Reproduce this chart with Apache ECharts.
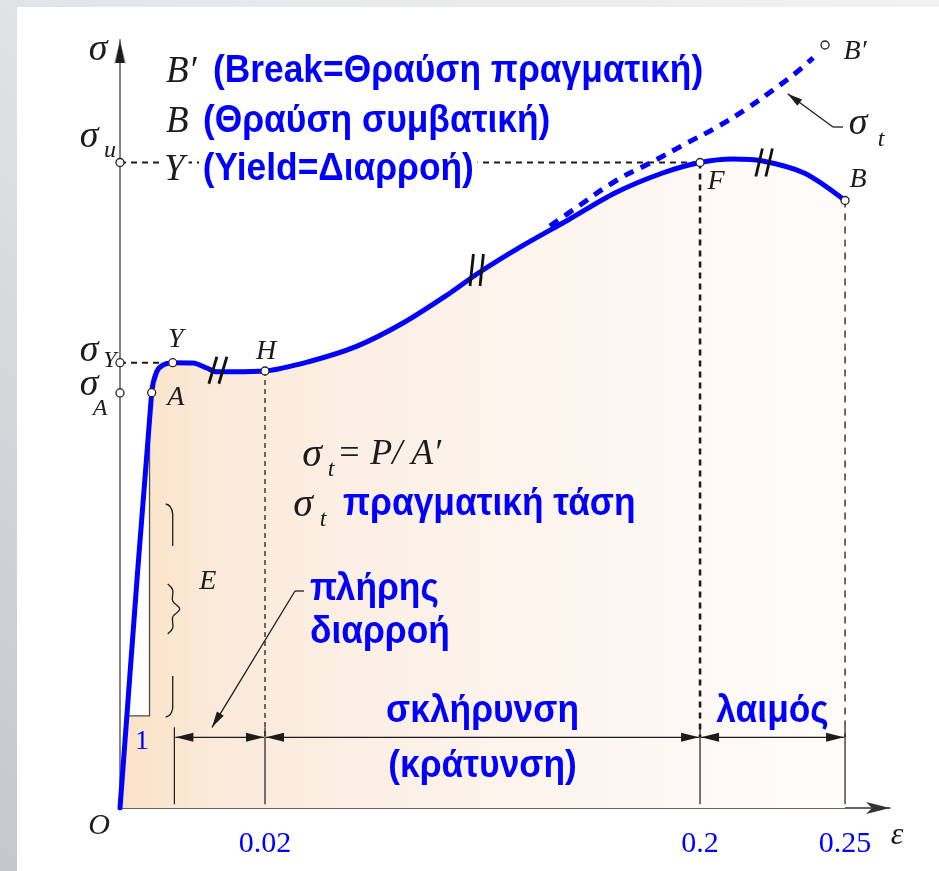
<!DOCTYPE html>
<html>
<head>
<meta charset="utf-8">
<title>Διάγραμμα τάσης – παραμόρφωσης</title>
<script src="https://cdn.jsdelivr.net/npm/echarts@6/dist/echarts.min.js"></script>
<style>
  html, body { margin: 0; padding: 0; }
  #main { width: 939px; height: 871px; }
</style>
</head>
<body>
<div id="main"></div>
<script>
// ---- broken strain axis: real strain knots and where they sit on the drawn axis
const strainKnots = [0, 0.02, 0.2, 0.25];
const axisKnots   = [0, 0.05, 0.2, 0.25];
const axisEnd = 0.2655;
const tickStrains = [0.02, 0.2, 0.25];
const tickLabels  = ['0.02', '0.2', '0.25'];

// ---- engineering stress–strain curve O → A → Y → H → F → B (stress in % of axis height)
const curveStrain = [0, 0.00437, 0.00506, 0.00593, 0.00727, 0.01007, 0.01196, 0.01334, 0.01559, 0.02,
                     0.0381, 0.0576, 0.0771, 0.0966, 0.1083, 0.1259, 0.1454, 0.1648, 0.1845, 0.2,
                     0.2114, 0.2212, 0.2359, 0.25];
const curveStress = [0, 54.08, 56.8, 57.68, 57.98, 57.94, 57.29, 56.8, 56.8, 56.9,
                     58.11, 60.07, 63.15, 67.06, 69.66, 73.09, 76.56, 80.08, 82.68, 84.05,
                     84.5, 84.28, 82.68, 79.1];

// ---- true stress σt = P/A'
const trueStrain = [0.1379, 0.1474, 0.1657, 0.1793, 0.1946, 0.2059, 0.2162, 0.2252, 0.2321, 0.2390];
const trueStress = [75.78, 77.86, 81.77, 83.98, 86.59, 88.67, 91.1, 93.5, 95.44, 97.66];

// ---- characteristic points
const pointNames  = ['A', 'Y', 'H', 'F', 'B', 'B′'];
const pointStrain = [0.00437, 0.00727, 0.02, 0.2, 0.25, 0.2431];
const pointStress = [54.08, 57.98, 56.9, 84.05, 79.1, 99.35];

// stress levels marked on the σ axis
const sigmaNames  = ['u', 'Y', 'A'];
const sigmaLevels = [84.05, 57.98, 54.04];

// slope triangle of the elastic line (modulus E)
const triStrain = [0.00097, 0.00407, 0.00407];
const triStress = [12.0, 12.0, 50.4];

// axis-break marks on the curve
const breakStrain = [0.0135, 0.1076, 0.2221];
const breakStress = [57.0, 70.05, 84.05];

// zones under the curve
const zoneStrains = [0.0075, 0.02, 0.2, 0.25];
const zoneStress = 9.2;

const BLUE = '#0000ff';
const INK = '#1c1c1c';
const SERIF = '"Liberation Serif", "DejaVu Serif", serif';
const SANS = '"Liberation Sans", Arial, sans-serif';

function toAxis(e) {
  const n = strainKnots.length;
  for (let i = 1; i < n; i++) {
    if (e <= strainKnots[i] || i === n - 1) {
      const t = (e - strainKnots[i - 1]) / (strainKnots[i] - strainKnots[i - 1]);
      return axisKnots[i - 1] + t * (axisKnots[i] - axisKnots[i - 1]);
    }
  }
}
const pairs = (xs, ys) => xs.map((e, i) => [toAxis(e), ys[i]]);

const chart = echarts.init(document.getElementById('main'), null, { renderer: 'canvas', width: 939, height: 871 });

function guide(data, width, dash, z) {
  return {
    type: 'line', data, silent: true, showSymbol: false, z: z || 3,
    lineStyle: { color: INK, width, type: dash }, animation: false
  };
}

const series = [
  // shaded region under the curve
  {
    type: 'line', data: pairs(curveStrain, curveStress), smooth: 0.3, showSymbol: false, silent: true,
    lineStyle: { width: 0, opacity: 0 }, z: 1,
    areaStyle: {
      opacity: 1,
      color: { type: 'linear', x: 0, y: 0, x2: 1, y2: 0,
        colorStops: [
          { offset: 0, color: '#fae2c6' },
          { offset: 0.14, color: '#fbeadb' },
          { offset: 0.5, color: '#fcf3eb' },
          { offset: 1, color: '#fefcfa' }
        ] }
    }
  },
  // slope triangle
  {
    type: 'custom', z: 2, silent: true, data: [[0, 0]],
    renderItem: (params, api) => {
      const pts = triStrain.map((e, i) => api.coord([toAxis(e), triStress[i]]));
      return { type: 'polygon', shape: { points: pts }, style: { fill: '#ffffff', stroke: '#4a4a4a', lineWidth: 1.3 } };
    }
  },
  // guide lines
  guide([[0, sigmaLevels[0]], [toAxis(pointStrain[3]), sigmaLevels[0]]], 2, [6, 5]),
  guide([[0, sigmaLevels[1]], [toAxis(pointStrain[1]), sigmaLevels[1]]], 2, [6, 5]),
  guide([[toAxis(pointStrain[2]), pointStress[2]], [toAxis(pointStrain[2]), zoneStress]], 1.3, [5, 4]),
  guide([[toAxis(pointStrain[3]), pointStress[3]], [toAxis(pointStrain[3]), zoneStress]], 2.6, [6, 5]),
  guide([[toAxis(pointStrain[4]), pointStress[4]], [toAxis(pointStrain[4]), zoneStress]], 1.3, [7, 6]),
  ...zoneStrains.map(e => guide([[toAxis(e), zoneStress + 1.3], [toAxis(e), 0.5]], 1.2, 'solid')),
  // engineering curve
  {
    type: 'line', data: pairs(curveStrain, curveStress), smooth: 0.3, showSymbol: false, silent: true, z: 5,
    lineStyle: { color: BLUE, width: 5, cap: 'round', join: 'round' }
  },
  // true stress
  {
    type: 'line', data: pairs(trueStrain, trueStress), smooth: 0.45, showSymbol: false, silent: true, z: 5,
    lineStyle: { color: BLUE, width: 5, type: [10, 8], cap: 'butt' }
  },
  // point markers
  {
    type: 'scatter', z: 7, silent: true, symbol: 'circle', symbolSize: 8,
    itemStyle: { color: '#ffffff', borderColor: '#222', borderWidth: 1.3, opacity: 1 },
    data: pairs(pointStrain, pointStress).concat(sigmaLevels.map(s => [0, s]))
  }
];

chart.setOption({
  animation: false,
  backgroundColor: { type: 'linear', x: 0, y: 1, x2: 1, y2: 0,
    colorStops: [{ offset: 0, color: '#c4c8cb' }, { offset: 0.55, color: '#e6e7e8' }, { offset: 1, color: '#f1f1f1' }] },
  grid: { left: 120, right: 49, top: 40, bottom: 63, containLabel: false, outerBoundsMode: 'none' },
  xAxis: {
    type: 'value', min: 0, max: axisEnd,
    axisLine: { show: true, onZero: true, symbol: ['none', 'arrow'], symbolSize: [9, 24],
      lineStyle: { color: '#333', width: 1.5 } },
    axisTick: { show: false },
    splitLine: { show: false },
    axisLabel: {
      show: true, customValues: tickStrains.map(toAxis), margin: 21,
      color: BLUE, fontFamily: SERIF, fontSize: 30,
      formatter: v => {
        const i = tickStrains.findIndex(e => Math.abs(toAxis(e) - v) < 1e-9);
        return i >= 0 ? tickLabels[i] : '';
      }
    }
  },
  yAxis: {
    type: 'value', min: 0, max: 100,
    axisLine: { show: true, symbol: ['none', 'arrow'], symbolSize: [9, 24],
      lineStyle: { color: '#858585', width: 2 } },
    axisTick: { show: false },
    splitLine: { show: false },
    axisLabel: { show: false }
  },
  series
});

// ---- annotations positioned through the axis scales
const P = (e, s) => chart.convertToPixel({ xAxisIndex: 0, yAxisIndex: 0 }, [toAxis(e), s]);

function text(x, y, str, font, opt) {
  opt = opt || {};
  const st = {
    text: str, font, fill: opt.color || INK,
    align: opt.align || 'left', textAlign: opt.align || 'left',
    verticalAlign: 'middle', textVerticalAlign: 'middle'
  };
  if (opt.bg) { st.backgroundColor = opt.bg; st.padding = [0, 4]; }
  return { type: 'text', x, y, z: 20, scaleX: opt.sx || 1, style: st, silent: true };
}
const it = n => 'italic ' + n + 'px ' + SERIF;
const bold = n => 'bold ' + n + 'px ' + SANS;
const NARROW = 0.93;
const blueText = (x, y, str, align, bg) => text(x, y, str, bold(38), { color: BLUE, sx: NARROW, align, bg });

function line(a, b, w, color) {
  return { type: 'line', z: 15, silent: true, shape: { x1: a[0], y1: a[1], x2: b[0], y2: b[1] },
    style: { stroke: color || INK, lineWidth: w || 1.2 } };
}
function head(tip, from, len, half) {
  const dx = tip[0] - from[0], dy = tip[1] - from[1];
  const d = Math.hypot(dx, dy), ux = dx / d, uy = dy / d;
  const bx = tip[0] - ux * len, by = tip[1] - uy * len;
  return { type: 'polygon', z: 16, silent: true,
    shape: { points: [tip, [bx - uy * half, by + ux * half], [bx + uy * half, by - ux * half]] },
    style: { fill: INK } };
}

const els = [];
// white page panel
els.push({ type: 'rect', z: -10, silent: true, shape: { x: 17, y: 7, width: 922, height: 864 }, style: { fill: '#ffffff' } });

// title lines
els.push(text(166, 72, 'B′', it(37)));
els.push(blueText(213, 72, '(Break=Θραύση πραγματική)'));
els.push(text(166, 122, 'B', it(37)));
els.push(blueText(203, 122, '(Θραύση συμβατική)'));
els.push(text(160, 170, 'Y', it(37), { bg: '#ffffff' }));
els.push(blueText(199, 170, '(Yield=Διαρροή)', 'left', '#ffffff'));

// σ axis captions
const o = P(0, 0);
const yTop = P(0, 100);
els.push(head([yTop[0], yTop[1] + 1], [yTop[0], yTop[1] + 60], 22, 4.5));
els.push(text(o[0] - 22, 50, 'σ', it(38), { align: 'center' }));
els.push(text(o[0] - 21, o[1] + 18, 'O', it(30), { align: 'center' }));
const ex = P(0.25, 0);
els.push(text(ex[0] + 52, o[1] + 28, 'ε', it(32), { align: 'center' }));
const su = P(0, sigmaLevels[0]), sy = P(0, sigmaLevels[1]), sa = P(0, sigmaLevels[2]);
els.push(text(su[0] - 31, su[1] - 25, 'σ', it(38), { align: 'center' }));
els.push(text(su[0] - 10, su[1] - 12, 'u', it(24), { align: 'center' }));
els.push(text(sy[0] - 31, sy[1] - 12, 'σ', it(38), { align: 'center' }));
els.push(text(sy[0] - 10, sy[1] - 2, 'Y', it(24), { align: 'center' }));
els.push(text(sa[0] - 31, sa[1] - 8, 'σ', it(38), { align: 'center' }));
els.push(text(sa[0] - 20, sa[1] + 16, 'A', it(24), { align: 'center' }));

// point labels
const lblOff = [[24, 5], [3, -23], [1, -19], [16, 19], [13, -21], [30, 7]];
pointNames.forEach((n, i) => {
  const p = P(pointStrain[i], pointStress[i]);
  els.push(text(p[0] + lblOff[i][0], p[1] + lblOff[i][1], n, it(28), { align: 'center' }));
});

// break marks
const tilt = [[4, 13.5], [1.7, 16], [3.3, 14]];
breakStrain.forEach((e, i) => {
  const c = P(e, breakStress[i]);
  [-5, 5].forEach(dx => {
    els.push(line([c[0] + dx - tilt[i][0], c[1] + tilt[i][1]], [c[0] + dx + tilt[i][0], c[1] - tilt[i][1]], 2.8, '#111'));
  });
});

// σt = P/A' and caption
els.push(text(312, 455, 'σ', it(40), { align: 'center' }));
els.push(text(331, 470, 't', it(24), { align: 'center' }));
els.push(text(337, 455, '= P/ A′', it(36)));
els.push(text(303, 505, 'σ', it(40), { align: 'center' }));
els.push(text(323, 520, 't', it(24), { align: 'center' }));
els.push(blueText(343, 505, 'πραγματική τάση'));

// true stress leader
const sigT = [858, 124];
els.push(text(sigT[0], sigT[1], 'σ', it(38), { align: 'center' }));
els.push(text(sigT[0] + 23, sigT[1] + 16, 't', it(24), { align: 'center' }));
const tt = P(0.2302, 93.0);
els.push(line([843, 127], [833, 127], 1.3));
els.push(line([833, 127], tt, 1.3));
els.push(head(tt, [833, 127], 15, 4));

// elastic modulus brackets and label
const bx = P(pointStrain[1], 0)[0];
els.push({ type: 'bezierCurve', z: 15, silent: true, shape: { x1: bx - 7, y1: 504, cpx1: bx - 1, cpy1: 505, x2: bx, y2: 514 }, style: { stroke: INK, lineWidth: 1.3, fill: 'none' } });
els.push(line([bx, 514], [bx, 546], 1.3));
els.push({ type: 'polyline', z: 15, silent: true,
  shape: { points: [[bx - 5, 584], [bx, 590], [bx, 601], [bx + 7, 609], [bx, 617], [bx, 628], [bx - 5, 634]], smooth: 0.4 },
  style: { stroke: INK, lineWidth: 1.3, fill: 'none' } });
els.push(line([bx, 676], [bx, 708], 1.3));
els.push({ type: 'bezierCurve', z: 15, silent: true, shape: { x1: bx, y1: 708, cpx1: bx - 1, cpy1: 716, x2: bx - 7, y2: 717 }, style: { stroke: INK, lineWidth: 1.3, fill: 'none' } });
els.push(text(bx + 35, 582, 'E', it(28), { align: 'center' }));
const t0 = P(triStrain[0], triStress[0]);
els.push(text(t0[0] + 15, t0[1] + 26, '1', '28px ' + SERIF, { align: 'center', color: BLUE }));

// zone dimension arrows
const zy = P(0, zoneStress)[1];
for (let i = 0; i < zoneStrains.length - 1; i++) {
  const a = [P(zoneStrains[i], 0)[0] + 1, zy], b = [P(zoneStrains[i + 1], 0)[0] - 1, zy];
  els.push(line(a, b, 1.3));
  els.push(head(a, b, 18, 4.5));
  els.push(head(b, a, 18, 4.5));
}

// zone captions
els.push(blueText(310, 590, 'πλήρης'));
els.push(blueText(310, 633, 'διαρροή'));
const lt = [212, zy - 10];
els.push(line([304, 591], [295, 591], 1.3));
els.push(line([295, 591], lt, 1.3));
els.push(head(lt, [295, 591], 16, 4));
const mid = (P(0.02, 0)[0] + P(0.2, 0)[0]) / 2;
els.push(blueText(mid, zy - 26, 'σκλήρυνση', 'center'));
els.push(blueText(mid, zy + 29, '(κράτυνση)', 'center'));
const neck = (P(0.2, 0)[0] + P(0.25, 0)[0]) / 2;
els.push(blueText(neck, zy - 26, 'λαιμός', 'center'));

chart.setOption({ graphic: { elements: els } });
</script>
</body>
</html>
